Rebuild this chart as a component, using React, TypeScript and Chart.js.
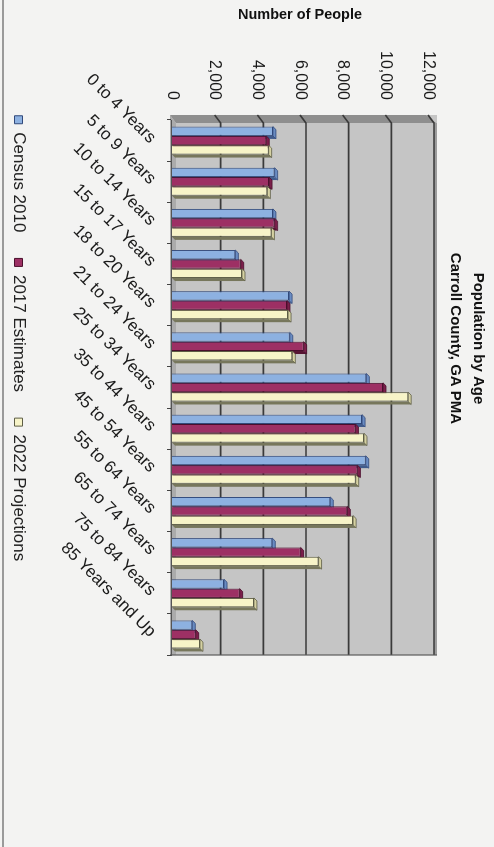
import React, { useEffect, useRef } from "react";
import { Chart, registerables } from "chart.js";

Chart.register(...registerables);

// ---------- data ----------
const categories = [
  "0 to 4 Years",
  "5 to 9 Years",
  "10 to 14 Years",
  "15 to 17 Years",
  "18 to 20 Years",
  "21 to 24 Years",
  "25 to 34 Years",
  "35 to 44 Years",
  "45 to 54 Years",
  "55 to 64 Years",
  "65 to 74 Years",
  "75 to 84 Years",
  "85 Years and Up",
];
const census2010 = [4730, 4810, 4730, 2970, 5490, 5520, 9110, 8910, 9080, 7420, 4700, 2440, 950];
const estimates2017 = [4420, 4550, 4810, 3220, 5390, 6170, 9890, 8600, 8690, 8220, 6030, 3170, 1110];
const projections2022 = [4530, 4470, 4660, 3280, 5440, 5640, 11070, 9000, 8610, 8490, 6870, 3840, 1310];
const seriesLabels = ["Census 2010", "2017 Estimates", "2022 Projections"];
const titleLines = ["Population by Age", "Carroll County, GA PMA"];
const valueAxisTitle = "Number of People";
const valueMin = 0;
const valueMax = 12000;
const valueStep = 2000;

// ---------- styling ----------
const FONT = "'Liberation Sans', Arial, Helvetica, sans-serif";
const PAGE_W = 494;
const PAGE_H = 847;
const W = PAGE_H; // unrotated canvas width
const H = PAGE_W; // unrotated canvas height
const DEPTH = 3;
const WALL = 6;
const PAD_LEFT = 22;
const LEGEND_FONT = 17;
const LEGEND_PAD = 26;

const seriesStyle = [
  { front: "#8db1e1", border: "#30487a", top: "#6a8cc2", side: "#405b8c" },
  { front: "#9d3064", border: "#4a0f2c", top: "#7b1f4b", side: "#561432" },
  { front: "#f7f4c8", border: "#5d5d45", top: "#d5d1a2", side: "#77775c" },
];

const wallPlugin = {
  id: "wall3d",
  beforeDraw(chart: any) {
    const { ctx, chartArea: a } = chart;
    const ys = chart.scales.y;
    const L = a.left, R = a.right, T = a.top, B = a.bottom;
    ctx.save();
    // back wall
    ctx.fillStyle = "#c5c5c5";
    ctx.fillRect(L - 5, T - WALL - 3, R - L + 5, B - T + WALL + 5);
    // top rim of wall
    ctx.fillStyle = "#9d9d9d";
    ctx.fillRect(L + 3, T - WALL - 3, R - L - 3, 3);
    // side wall
    ctx.fillStyle = "#8e8e8e";
    ctx.beginPath();
    ctx.moveTo(L - 5, B + 2);
    ctx.lineTo(L - 5, T + 2);
    ctx.lineTo(L + 3, T - WALL - 2);
    ctx.lineTo(L + 3, B - 4);
    ctx.closePath();
    ctx.fill();
    // floor
    ctx.fillStyle = "#ababab";
    ctx.beginPath();
    ctx.moveTo(L - 5, B + 2);
    ctx.lineTo(L + 3, B - 4);
    ctx.lineTo(R, B - 4);
    ctx.lineTo(R, B + 2);
    ctx.closePath();
    ctx.fill();
    // gridlines on the back wall
    ctx.strokeStyle = "#3a3a3a";
    ctx.lineWidth = 1.6;
    for (let v = valueMin + valueStep; v <= valueMax; v += valueStep) {
      const py = ys.getPixelForValue(v);
      ctx.beginPath();
      ctx.moveTo(L - 5, py);
      ctx.lineTo(L + 3, py - WALL);
      ctx.lineTo(R, py - WALL);
      ctx.stroke();
    }
    // wall outline
    ctx.strokeStyle = "#5a5a5a";
    ctx.lineWidth = 1.2;
    ctx.beginPath();
    ctx.moveTo(R, T - WALL - 3);
    ctx.lineTo(R, B + 2);
    ctx.stroke();
    ctx.restore();
  },
  beforeDatasetsDraw(chart: any) {
    const { ctx } = chart;
    ctx.save();
    chart.data.datasets.forEach((_: any, di: number) => {
      const meta = chart.getDatasetMeta(di);
      const st = seriesStyle[di];
      meta.data.forEach((el: any) => {
        const l = el.x - el.width / 2;
        const r = el.x + el.width / 2;
        const y = el.y;
        const b = el.base;
        // side face
        ctx.fillStyle = st.side;
        ctx.beginPath();
        ctx.moveTo(r, y);
        ctx.lineTo(r + DEPTH, y - DEPTH);
        ctx.lineTo(r + DEPTH, b - DEPTH);
        ctx.lineTo(r, b);
        ctx.closePath();
        ctx.fill();
        // top face
        ctx.fillStyle = st.top;
        ctx.beginPath();
        ctx.moveTo(l, y);
        ctx.lineTo(l + DEPTH, y - DEPTH);
        ctx.lineTo(r + DEPTH, y - DEPTH);
        ctx.lineTo(r, y);
        ctx.closePath();
        ctx.fill();
        ctx.strokeStyle = st.border;
        ctx.lineWidth = 0.8;
        ctx.stroke();
      });
    });
    ctx.restore();
  },
};

export default function App() {
  const ref = useRef<HTMLCanvasElement | null>(null);

  useEffect(() => {
    if (!ref.current) return;
    const series = [census2010, estimates2017, projections2022];
    // legend box height = font + padding + 10; chart-area bottom must sit at 322
    const legendH = LEGEND_FONT + LEGEND_PAD + 10;
    const xAxisH = H - 322 - legendH;
    const chart = new Chart(ref.current, {
      type: "bar",
      data: {
        labels: categories,
        datasets: series.map((d, i) => ({
          label: seriesLabels[i],
          data: d,
          backgroundColor: seriesStyle[i].front,
          borderColor: seriesStyle[i].border,
          borderWidth: 1,
          categoryPercentage: 0.68,
          barPercentage: 1.0,
        })),
      },
      options: {
        animation: false,
        responsive: false,
        devicePixelRatio: 1,
        layout: { padding: { left: PAD_LEFT, right: 192, top: 0, bottom: 0 } },
        plugins: {
          title: {
            display: true,
            text: titleLines,
            color: "#111",
            font: { family: FONT, size: 15, weight: "bold", lineHeight: 1.5 },
            padding: { top: 5, bottom: 16 },
          },
          legend: {
            display: true,
            position: "bottom",
            labels: {
              color: "#222",
              font: { family: FONT, size: LEGEND_FONT },
              boxWidth: 8,
              boxHeight: 8,
              padding: LEGEND_PAD,
            },
          },
          tooltip: { enabled: false },
        },
        scales: {
          x: {
            type: "category",
            grid: {
              display: true,
              drawOnChartArea: false,
              drawTicks: true,
              tickLength: 5,
              color: "#444",
              offset: true,
            },
            border: { display: true, color: "#555", width: 1 },
            ticks: {
              color: "#1a1a1a",
              font: { family: FONT, size: 17 },
              minRotation: 45,
              maxRotation: 45,
              autoSkip: false,
              padding: 7,
            },
            afterFit: (s: any) => {
              s.height = xAxisH;
            },
          },
          y: {
            type: "linear",
            min: valueMin,
            max: valueMax,
            grid: { display: false, drawTicks: false },
            border: { display: false },
            ticks: {
              stepSize: valueStep,
              color: "#1a1a1a",
              font: { family: FONT, size: 16 },
              padding: 20,
              callback: (v: any) => Number(v).toLocaleString("en-US"),
            },
            title: {
              display: true,
              text: valueAxisTitle,
              color: "#111",
              font: { family: FONT, size: 14.5, weight: "bold" },
              padding: { top: -16, bottom: 0 },
            },
            afterFit: (s: any) => {
              s.width = 120 - PAD_LEFT;
            },
          },
        },
      },
      plugins: [wallPlugin],
    } as any);
    return () => chart.destroy();
  }, []);

  return (
    <div
      style={{
        position: "fixed",
        left: 0,
        top: 0,
        width: PAGE_W,
        height: PAGE_H,
        background: "#f3f3f2",
        overflow: "hidden",
      }}
    >
      <div
        style={{
          position: "absolute",
          left: 2,
          top: 0,
          width: 1.5,
          height: PAGE_H,
          background: "#9a9a9a",
        }}
      />
      <div
        style={{
          position: "absolute",
          left: 0,
          top: 0,
          width: W,
          height: H,
          transformOrigin: "0 0",
          transform: `translateX(${PAGE_W}px) rotate(90deg)`,
        }}
      >
        <canvas ref={ref} width={W} height={H} style={{ display: "block", width: W, height: H }} />
      </div>
    </div>
  );
}
